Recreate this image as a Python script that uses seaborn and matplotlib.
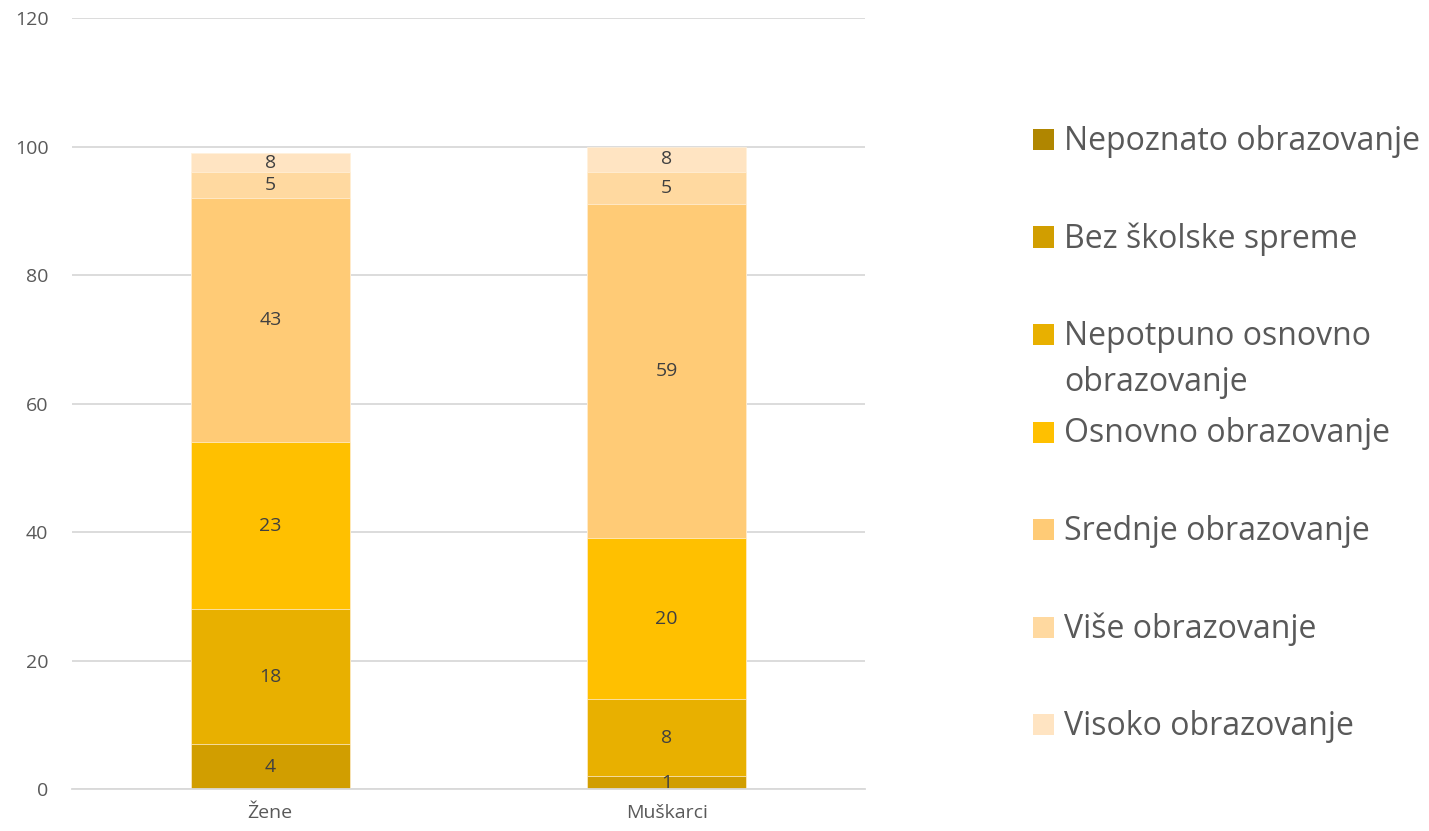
import numpy as np
import pandas as pd
import matplotlib
matplotlib.use("Agg")
import matplotlib.pyplot as plt
import seaborn as sns
from matplotlib.patches import Rectangle

# ── data ─────────────────────────────────────────────────────────
categories = ["Žene", "Muškarci"]
series = ["Nepoznato obrazovanje", "Bez školske spreme",
          "Nepotpuno osnovno obrazovanje", "Osnovno obrazovanje",
          "Srednje obrazovanje", "Više obrazovanje", "Visoko obrazovanje"]

# segment heights (bottom to top)
zene_vals     = [0, 7, 21, 26, 38, 4, 3]
muskarci_vals = [0, 2, 12, 25, 52, 5, 4]

# numbers printed on the segments
zene_labels     = [None, 4, 18, 23, 43, 5, 8]
muskarci_labels = [None, 1, 8, 20, 59, 5, 8]

colors = ["#B08600", "#D19E00", "#E8B000", "#FFC000",
          "#FFCB76", "#FFD9A0", "#FFE4C2"]

# ── plot ─────────────────────────────────────────────────────────
sns.set_style("white")
plt.rcParams["font.family"] = ["Open Sans", "DejaVu Sans"]

W, H = 1429, 831
fig = plt.figure(figsize=(W / 100, H / 100), dpi=100)
ax = fig.add_axes([72 / W, 42 / H, 793 / W, 771 / H])

vals = np.array([zene_vals, muskarci_vals], dtype=float)   # (cat, series)
cum = np.cumsum(vals, axis=1)

# draw cumulative bars from top layer down so each segment shows
for j in range(len(series) - 1, -1, -1):
    if vals[:, j].sum() == 0:
        continue
    df = pd.DataFrame({"cat": categories, "top": cum[:, j]})
    sns.barplot(data=df, x="cat", y="top", order=categories, color=colors[j],
                width=0.4, saturation=1, edgecolor="#FFF1DC", linewidth=0.5,
                ax=ax, zorder=2)

labels = [zene_labels, muskarci_labels]
for i in range(len(categories)):
    for j in range(len(series)):
        if labels[i][j] is None:
            continue
        mid = cum[i, j] - vals[i, j] / 2
        ax.text(i, mid, str(labels[i][j]), ha="center", va="center",
                fontsize=14, color="#404040", zorder=3)

ax.set_ylim(0, 120)
ax.set_xlim(-0.5, 1.5)
ax.set_yticks(range(0, 121, 20))
ax.yaxis.grid(True, color="#D9D9D9", linewidth=1.3, zorder=0)
ax.set_axisbelow(True)
for s in ["top", "right", "left"]:
    ax.spines[s].set_visible(False)
ax.spines["bottom"].set_color("#D9D9D9")
ax.spines["bottom"].set_linewidth(1.3)
ax.tick_params(axis="both", length=0, labelsize=14, labelcolor="#595959")
ax.tick_params(axis="y", pad=17)
ax.tick_params(axis="x", pad=11)
ax.set_xlabel("")
ax.set_ylabel("")

# ── legend (Excel style, one entry every 97.5 px) ────────────────
leg_lines = list(series)
leg_lines[2] = "Nepotpuno osnovno\nobrazovanje"
for k, (name, c) in enumerate(zip(leg_lines, colors)):
    base = 150 + 97.5 * k
    fig.patches.append(Rectangle((1033 / W, 1 - base / H), 21 / W, 21 / H,
                                 transform=fig.transFigure,
                                 facecolor=c, edgecolor="none"))
    for n, line in enumerate(name.split("\n")):
        fig.text(1064 / W, 1 - (base + 46 * n) / H, line, ha="left",
                 va="baseline", fontsize=23, color="#595959")

fig.savefig("out.png", dpi=100)
